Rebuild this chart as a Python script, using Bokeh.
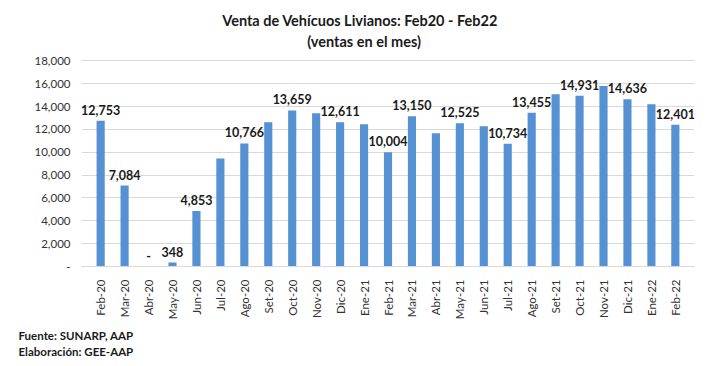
from bokeh.plotting import figure
from bokeh.models import (ColumnDataSource, Title, NumeralTickFormatter, LabelSet, FixedTicker)
from bokeh.core.properties import value
from bokeh.embed import file_html
from bokeh.resources import INLINE

months = ["Feb-20", "Mar-20", "Abr-20", "May-20", "Jun-20", "Jul-20", "Ago-20", "Set-20",
          "Oct-20", "Nov-20", "Dic-20", "Ene-21", "Feb-21", "Mar-21", "Abr-21", "May-21",
          "Jun-21", "Jul-21", "Ago-21", "Set-21", "Oct-21", "Nov-21", "Dic-21", "Ene-22", "Feb-22"]
ventas = [12753, 7084, 0, 348, 4853, 9450, 10766, 12620,
          13659, 13400, 12611, 12450, 10004, 13150, 11660, 12525,
          12270, 10734, 13455, 15070, 14931, 15790, 14636, 14190, 12401]
show_label = [1, 1, 1, 1, 1, 0, 1, 0,
              1, 0, 1, 0, 1, 1, 0, 1,
              0, 1, 1, 0, 1, 0, 1, 0, 1]
y_ticks = [0, 2000, 4000, 6000, 8000, 10000, 12000, 14000, 16000, 18000]
titles = ["Venta de Vehícuos Livianos: Feb20 - Feb22", "(ventas en el mes)"]

labels = []
for v, s in zip(ventas, show_label):
    if not s:
        labels.append("")
    elif v == 0:
        labels.append("-")
    else:
        labels.append(f"{v:,}")

src = ColumnDataSource(dict(m=months, v=ventas, lab=labels))

FONT = "Lato"
Y_TOP = y_ticks[-1]

p = figure(x_range=months, y_range=(0, 23100), width=721, height=366,
           output_backend="svg", toolbar_location=None,
           min_border_left=81, min_border_right=27, min_border_top=2, min_border_bottom=100)
p.x_range.range_padding = 0.3
p.x_range.range_padding_units = "absolute"

p.vbar(x="m", top="v", width=0.34, source=src, fill_color="#5591D3", line_color=None)

p.add_layout(LabelSet(x="m", y="v", text="lab", source=src, y_offset=6,
                      text_align="center", text_baseline="bottom",
                      text_font=value(FONT), text_font_style="bold", text_font_size="12.5px",
                      text_color="#1a1a1a"))

# chart titles (drawn above the top gridline)
tsrc = ColumnDataSource(dict(x=[months[11], months[11]], y=[Y_TOP, Y_TOP], t=titles,
                             xo=[-4, 0], yo=[40, 19]))
p.add_layout(LabelSet(x="x", y="y", text="t", source=tsrc, x_offset="xo", y_offset="yo",
                      text_align="center", text_baseline="middle",
                      text_font=value(FONT), text_font_style="bold", text_font_size="14.5px",
                      text_color="#1a1a1a"))

p.outline_line_color = None
p.background_fill_color = "white"
p.xgrid.grid_line_color = None
p.ygrid.grid_line_color = "#D9D9D9"
p.ygrid.grid_line_width = 1

p.yaxis.ticker = FixedTicker(ticks=y_ticks)
p.yaxis.formatter = NumeralTickFormatter(format="0,0")
p.yaxis.major_label_overrides = {0: "-"}
p.yaxis.axis_line_color = None
p.yaxis.major_tick_line_color = None
p.yaxis.minor_tick_line_color = None
p.yaxis.major_label_text_font = FONT
p.yaxis.major_label_text_font_size = "11.5px"
p.yaxis.major_label_text_color = "#333333"
p.yaxis.major_label_standoff = 5

p.xaxis.axis_line_color = "#D9D9D9"
p.xaxis.major_tick_line_color = None
p.xaxis.major_label_orientation = 1.5708
p.xaxis.major_label_text_font = FONT
p.xaxis.major_label_text_font_size = "11.5px"
p.xaxis.major_label_text_color = "#333333"
p.xaxis.major_label_standoff = 7

footer = Title(text="Fuente: SUNARP, AAP\nElaboración: GEE-AAP", align="left", offset=-63,
               standoff=8, text_line_height=1.3,
               text_font=FONT, text_font_size="11.5px", text_font_style="bold", text_color="#1a1a1a")
p.add_layout(footer, "below")

open("out.html", "w").write(file_html(p, INLINE))
